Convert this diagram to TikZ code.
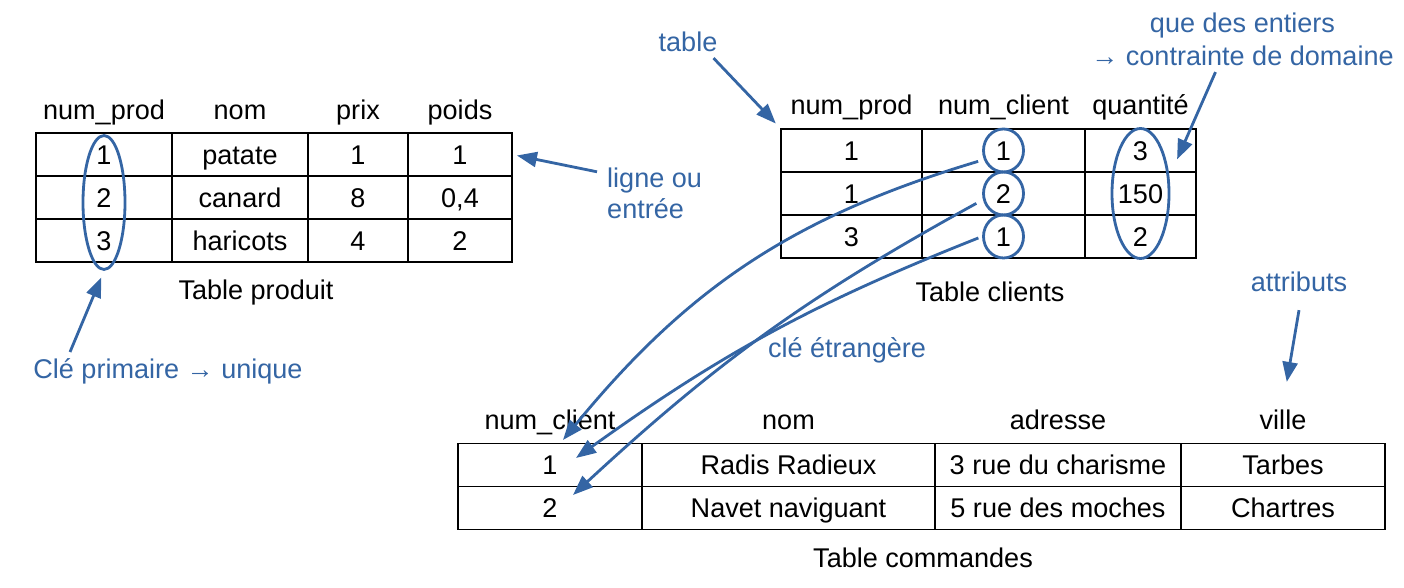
\documentclass[tikz,border=0pt]{standalone}
\usepackage{fontspec}
\setmainfont{Liberation Sans}
\usepackage{tikz}
\usetikzlibrary{arrows.meta, positioning, shapes.geometric}
\definecolor{noteblue}{HTML}{3465A4}

\begin{document}
\begin{tikzpicture}[
    cell/.style={rectangle, draw=black, line width=0.8pt, minimum height=0.86cm,
                 inner sep=0pt, outer sep=0pt, text height=11pt, text depth=0pt,
                 font=\fontsize{15.4}{18}\selectfont},
    head/.style={text height=11pt, text depth=0pt, font=\fontsize{15.4}{18}\selectfont},
    note/.style={text=noteblue, font=\fontsize{15.4}{18.7}\selectfont},
    ring/.style={ellipse, draw=noteblue, line width=1.6pt, inner sep=0pt},
    pointer/.style={-{Triangle[length=0.4cm, width=0.3cm]}, line width=1.6pt, color=noteblue}
  ]
    \useasboundingbox (0,0) rectangle (28.08,-11.76);

    % Table produit
    \foreach \t/\x [count=\j] in {num\_prod/2.08, nom/4.80, prix/7.16, poids/9.20}
      \node[head] (ph\j) at (\x,-2.20) {\t};
    \foreach \a/\b/\c/\d [count=\i] in {1/patate/1/1, 2/canard/8/{0,4}, 3/haricots/4/2} {
      \node[cell, minimum width=2.72cm] (p\i1) at (2.08,-2.23-0.86*\i) {\a};
      \node[cell, minimum width=2.72cm] (p\i2) at (4.80,-2.23-0.86*\i) {\b};
      \node[cell, minimum width=2.00cm] (p\i3) at (7.16,-2.23-0.86*\i) {\c};
      \node[cell, minimum width=2.08cm] (p\i4) at (9.20,-2.23-0.86*\i) {\d};
    }
    \node[head] (capP) at (5.12,-5.80) {Table produit};

    % Table clients
    \foreach \t/\x [count=\j] in {num\_prod/17.03, num\_client/20.07, quantité/22.81}
      \node[head] (kh\j) at (\x,-2.10) {\t};
    \foreach \a/\b/\c [count=\i] in {1/1/3, 1/2/150, 3/1/2} {
      \node[cell, minimum width=2.82cm] (k\i1) at (17.03,-2.15-0.86*\i) {\a};
      \node[cell, minimum width=3.26cm] (k\i2) at (20.07,-2.15-0.86*\i) {\b};
      \node[cell, minimum width=2.22cm] (k\i3) at (22.81,-2.15-0.86*\i) {\c};
    }
    \node[head] (capK) at (19.80,-5.84) {Table clients};

    % Table commandes
    \foreach \t/\x [count=\j] in {num\_client/11.00, nom/15.77, adresse/21.16, ville/25.66}
      \node[head] (ch\j) at (\x,-8.40) {\t};
    \foreach \a/\b/\c/\d [count=\i] in {1/Radis Radieux/3 rue du charisme/Tarbes,
                                        2/Navet naviguant/5 rue des moches/Chartres} {
      \node[cell, minimum width=3.68cm] (c\i1) at (11.00,-8.44-0.86*\i) {\a};
      \node[cell, minimum width=5.86cm] (c\i2) at (15.77,-8.44-0.86*\i) {\b};
      \node[cell, minimum width=4.92cm] (c\i3) at (21.16,-8.44-0.86*\i) {\c};
      \node[cell, minimum width=4.08cm] (c\i4) at (25.66,-8.44-0.86*\i) {\d};
    }
    \node[head] (capC) at (18.46,-11.16) {Table commandes};

    % Rings
    \node[ring, minimum width=0.84cm, minimum height=2.68cm] (pk) at ([yshift=-0.1cm]p21) {};
    \node[ring, minimum width=0.8cm, minimum height=0.86cm] (cA) at (k12) {};
    \node[ring, minimum width=0.8cm, minimum height=0.86cm] (cB) at (k22) {};
    \node[ring, minimum width=0.8cm, minimum height=0.86cm] (cC) at (k32) {};
    \node[ring, minimum width=1.14cm, minimum height=2.6cm] (qty) at (k23) {};

    % Notes
    \node[note] (lblTable) at (13.76,-0.84) {table};
    \node[note, align=center] (lblDom) at (24.85,-0.79) {que des entiers\\→ contrainte de domaine};
    \node[note, align=left, anchor=west] (lblRow) at (12.02,-3.87) {ligne ou\\[-1pt]entrée};
    \node[note] (lblPk) at (3.36,-7.42) {Clé primaire → unique};
    \node[note] (lblAttr) at (25.98,-5.64) {attributs};
    \node[note] (lblFk) at (16.94,-7.00) {clé étrangère};

    \draw[pointer, shorten >=0.15cm] ([xshift=-0.2cm]lblTable.south east) -- (k11.north west);
    \draw[pointer, shorten >=0.38cm] ([xshift=-0.54cm]lblDom.south) -- (qty.30);
    \draw[pointer, shorten >=0.1cm] ([xshift=-0.08cm, yshift=-0.2cm]lblRow.north west) -- (p14.east);
    \draw[pointer, shorten >=0.14cm] ([xshift=-1.96cm]lblPk.north) -- (pk.south);
    \draw[pointer, shorten >=0.45cm] ([yshift=-0.24cm]lblAttr.south) -- (ch4.north);

    % Foreign keys
    \coordinate (fkA) at (11.26,-8.80);
    \coordinate (fkB) at (11.52,-9.16);
    \coordinate (fkC) at (11.46,-9.90);
    \draw[pointer, shorten <=0.12cm, bend right=17] (cA.205) to (fkA);
    \draw[pointer, shorten <=0.15cm, bend right=7] (cB.197) to (fkC);
    \draw[pointer, shorten <=0.08cm, bend right=7] (cC.180) to (fkB);
  \end{tikzpicture}
\end{document}
